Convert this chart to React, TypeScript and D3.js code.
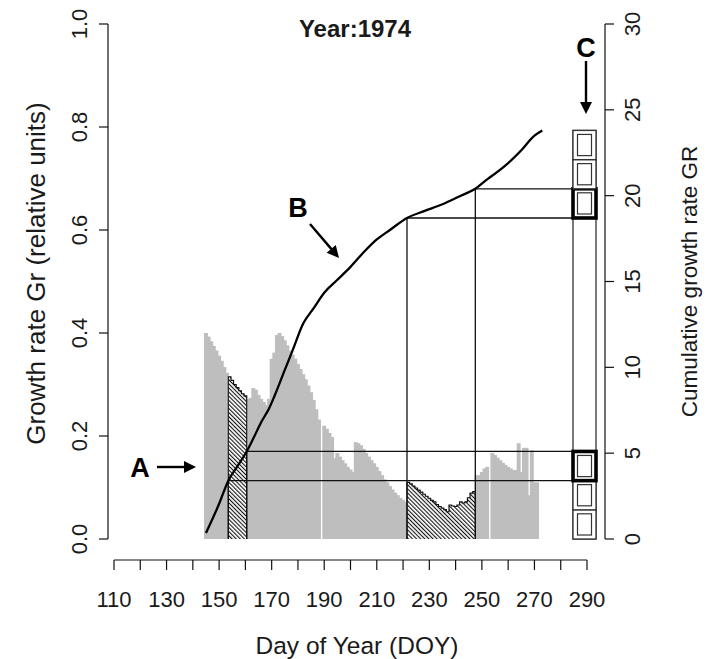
import React from 'react';
import * as d3 from 'd3';

// ---------- data ----------
const titleText = 'Year:1974';
const xLabel = 'Day of Year (DOY)';
const yLeftLabel = 'Growth rate Gr (relative units)';
const yRightLabel = 'Cumulative growth rate GR';

// daily growth rate Gr, starting at DOY 145 (0 = missing day)
const barStartDay = 145;
const growthRate = [
  0.400, 0.393, 0.384, 0.375, 0.366, 0.356, 0.346, 0.334, 0.323, // 145-153
  0.315, 0.308, 0.300, 0.294, 0.288, 0.282, 0.278, // 154-160
  0.272, 0.274, 0.293, 0.290, 0.280, 0.272, 0.266, 0.260, 0.272, // 161-169
  0.350, 0.362, 0.396, 0.400, 0.394, 0.386, 0.376, 0.366, 0.358, 0.350, // 170-179
  0.340, 0.330, 0.320, 0.310, 0.298, 0.285, 0.270, 0.252, 0.232, 0, // 180-189
  0.220, 0.214, 0.206, 0.198, 0.157, 0.167, 0.160, 0.153, 0.147, 0.140, // 190-199
  0.135, 0.130, 0.188, 0.186, 0.182, 0.175, 0.167, 0.160, 0.153, 0.147, // 200-209
  0.140, 0.132, 0.124, 0.116, 0.110, 0.103, 0.096, 0.090, 0.085, 0.080, // 210-219
  0.076, 0.072, // 220-221
  0.110, 0.107, 0.103, 0.099, 0.095, 0.091, 0.087, 0.083, // 222-229
  0.079, 0.075, 0.072, 0.067, 0.063, 0.060, 0.057, 0.053, 0.066, 0.064, // 230-239
  0.063, 0.066, 0.072, 0.070, 0.072, 0.080, 0.089, // 240-246
  0.092, // 247
  0.124, 0.124, 0.130, 0.137, 0.140, 0, // 248-253
  0.167, 0.163, 0.158, 0.153, 0.148, 0.144, // 254-259
  0.140, 0.137, 0.134, 0.134, 0.186, 0.130, 0.177, 0.177, 0.085, 0.172, // 260-269
  0.110, 0.110, // 270-271
];

// cumulative growth rate GR (right axis)
const cumDays = [145, 150, 153.5, 157, 160.5, 163, 166, 169, 171, 175, 178, 182, 186, 190, 195, 200, 205, 210, 215, 221.5, 228, 235, 242, 247.5, 252, 256, 260, 265, 270, 273];
const cumGR = [0.35, 2.05, 3.4, 4.25, 5.1, 5.85, 6.8, 7.6, 8.3, 9.85, 11.0, 12.55, 13.45, 14.35, 15.1, 15.85, 16.7, 17.45, 18.0, 18.7, 19.1, 19.5, 20.0, 20.4, 20.95, 21.4, 21.9, 22.65, 23.5, 23.8];

// highlighted periods (hatched)
const periodStart = [154, 222];
const periodEnd = [160, 247];
const periodGRStart = [3.4, 18.7];
const periodGREnd = [5.1, 20.4];

// GR classes in column C
const binWidth = 1.7;
const binCount = 14;
const drawnBins = [0, 1, 2, 11, 12, 13];
const highlightedBins = [2, 11];

// axes ticks
const xTicks = [110, 120, 130, 140, 150, 160, 170, 180, 190, 200, 210, 220, 230, 240, 250, 260, 270, 280, 290];
const xTickLabels = [110, 130, 150, 170, 190, 210, 230, 250, 270, 290];
const yLeftTicks = [0, 0.2, 0.4, 0.6, 0.8, 1.0];
const yRightTicks = [0, 5, 10, 15, 20, 25, 30];

// ---------- component ----------
export default function App() {
  const W = 707, H = 659;
  const x = d3.scaleLinear().domain([110, 290]).range([114, 587]);
  const yL = d3.scaleLinear().domain([0, 1]).range([539, 24]);
  const yR = d3.scaleLinear().domain([0, 30]).range([539, 24]);

  const leftAxisX = 108;
  const rightAxisX = 605;
  const bottomAxisY = 560;
  const colX0 = 573, colX1 = 596;
  const font = '"Liberation Sans", Arial, sans-serif';
  const textColor = '#1a1a1a';
  const gray = '#bebebe';

  const bars = growthRate.map((v, i) => ({ day: barStartDay + i, v }));

  const line = d3.line<number>()
    .x((_, i) => x(cumDays[i]))
    .y((g) => yR(g))
    .curve(d3.curveMonotoneX);

  const hatchOutline = (k: number) => {
    const s = periodStart[k], e = periodEnd[k];
    const sel = bars.filter(b => b.day >= s && b.day <= e);
    let p = `M${x(s - 0.5)},${yL(0)}`;
    sel.forEach((b) => {
      p += ` V${yL(b.v)} H${x(b.day + 0.5)}`;
    });
    p += ` V${yL(0)}`;
    return p;
  };

  const arrowHead = (x1: number, y1: number, x2: number, y2: number, len = 12, half = 6) => {
    const a = Math.atan2(y2 - y1, x2 - x1);
    const bx = x2 - len * Math.cos(a), by = y2 - len * Math.sin(a);
    const px = -Math.sin(a) * half, py = Math.cos(a) * half;
    return `M${x2},${y2} L${bx + px},${by + py} L${bx - px},${by - py} Z`;
  };
  const arrows = [
    { x1: 157, y1: 467, x2: 196, y2: 467 },
    { x1: 310, y1: 224, x2: 339, y2: 258 },
    { x1: 586, y1: 61, x2: 586, y2: 114 },
  ];

  return (
    <svg width={W} height={H} style={{ position: 'absolute', left: 0, top: 0, background: '#fff' }}>
      <defs>
        <pattern id="hatch" patternUnits="userSpaceOnUse" width={2.9} height={2.9} patternTransform="rotate(-45)">
          <rect width={2.9} height={2.9} fill="#fff" />
          <rect x={0} y={0} width={1.1} height={2.9} fill="#111" />
        </pattern>
      </defs>
      <rect width={W} height={H} fill="#fff" />

      {/* gray bars */}
      {bars.filter(b => b.v > 0).map((b) => (
        <rect key={b.day} x={x(b.day - 0.75)} y={yL(b.v)} width={x(b.day + 0.75) - x(b.day - 0.75)}
          height={yL(0) - yL(b.v)} fill={gray} />
      ))}

      {/* hatched periods */}
      {periodStart.map((s, k) => (
        <g key={'h' + k}>
          {bars.filter(b => b.day >= s && b.day <= periodEnd[k]).map((b) => (
            <rect key={b.day} x={x(b.day - 0.5)} y={yL(b.v)} width={x(b.day + 0.5) - x(b.day - 0.5) + 0.2}
              height={yL(0) - yL(b.v)} fill="url(#hatch)" />
          ))}
          <path d={hatchOutline(k)} fill="none" stroke="#111" strokeWidth={1.1} />
        </g>
      ))}

      {/* guide lines from period boundaries to column C */}
      {periodStart.map((s, k) => {
        const xa = x(s - 0.5), xb = x(periodEnd[k] + 0.5);
        const ya = yR(periodGRStart[k]), yb = yR(periodGREnd[k]);
        return (
          <g key={'g' + k} stroke="#111" strokeWidth={1.3} fill="none">
            <line x1={xa} y1={yR(0)} x2={xa} y2={ya} />
            <line x1={xb} y1={yR(0)} x2={xb} y2={yb} />
            <line x1={xa} y1={ya} x2={colX0} y2={ya} />
            <line x1={xb} y1={yb} x2={colX0} y2={yb} />
          </g>
        );
      })}

      {/* cumulative curve */}
      <path d={line(cumGR) || ''} fill="none" stroke="#000" strokeWidth={2.3} strokeLinejoin="round" />

      {/* column C */}
      <rect x={colX0} y={yR(binWidth * binCount)} width={colX1 - colX0} height={yR(0) - yR(binWidth * binCount)}
        fill="none" stroke="#333" strokeWidth={1.3} />
      {drawnBins.map((i) => {
        const y0 = yR((i + 1) * binWidth), y1 = yR(i * binWidth);
        const hi = highlightedBins.includes(i);
        return (
          <g key={'b' + i}>
            <rect x={colX0} y={y0} width={colX1 - colX0} height={y1 - y0} fill="#fff"
              stroke={hi ? '#000' : '#333'} strokeWidth={hi ? 3.6 : 1.3} />
            <rect x={colX0 + 4.5} y={y0 + 4} width={colX1 - colX0 - 9} height={y1 - y0 - 8} fill="none"
              stroke="#333" strokeWidth={1.2} />
          </g>
        );
      })}

      {/* left axis */}
      <g stroke="#111" strokeWidth={1.2}>
        <line x1={leftAxisX} y1={yL(0)} x2={leftAxisX} y2={yL(1)} />
        {yLeftTicks.map(t => <line key={t} x1={leftAxisX - 9} x2={leftAxisX} y1={yL(t)} y2={yL(t)} />)}
      </g>
      {yLeftTicks.map(t => (
        <text key={t} transform={`translate(87,${yL(t)}) rotate(-90)`} textAnchor="middle" fontFamily={font}
          fontSize={22} fill={textColor}>{t.toFixed(1)}</text>
      ))}
      <text transform={`translate(45,${(yL(0) + yL(1)) / 2 - 8}) rotate(-90)`} textAnchor="middle" fontFamily={font}
        fontSize={26} fill={textColor}>{yLeftLabel}</text>

      {/* right axis */}
      <g stroke="#111" strokeWidth={1.2}>
        <line x1={rightAxisX} y1={yR(0)} x2={rightAxisX} y2={yR(30)} />
        {yRightTicks.map(t => <line key={t} x1={rightAxisX} x2={rightAxisX + 9} y1={yR(t)} y2={yR(t)} />)}
      </g>
      {yRightTicks.map(t => (
        <text key={t} transform={`translate(640,${yR(t)}) rotate(-90)`} textAnchor="middle" fontFamily={font}
          fontSize={22} fill={textColor}>{t}</text>
      ))}
      <text transform={`translate(697,${(yR(0) + yR(30)) / 2}) rotate(-90)`} textAnchor="middle" fontFamily={font}
        fontSize={22.5} fill={textColor}>{yRightLabel}</text>

      {/* bottom axis */}
      <g stroke="#111" strokeWidth={1.2}>
        <line x1={x(110)} y1={bottomAxisY} x2={x(290)} y2={bottomAxisY} />
        {xTicks.map(t => <line key={t} x1={x(t)} x2={x(t)} y1={bottomAxisY} y2={bottomAxisY + 10} />)}
      </g>
      {xTickLabels.map(t => (
        <text key={t} x={x(t)} y={607} textAnchor="middle" fontFamily={font} fontSize={22} fill={textColor}>{t}</text>
      ))}
      <text x={357} y={654} textAnchor="middle" fontFamily={font} fontSize={24.5} fill={textColor}>{xLabel}</text>

      {/* title */}
      <text x={355} y={37} textAnchor="middle" fontFamily={font} fontWeight="bold" fontSize={24} fill={textColor}>{titleText}</text>

      {/* annotations */}
      <text x={140} y={477} textAnchor="middle" fontFamily={font} fontWeight="bold" fontSize={27} fill="#000">A</text>
      <text x={298} y={217} textAnchor="middle" fontFamily={font} fontWeight="bold" fontSize={27} fill="#000">B</text>
      <text x={586} y={57} textAnchor="middle" fontFamily={font} fontWeight="bold" fontSize={27} fill="#000">C</text>
      {arrows.map((a, i) => {
        const ang = Math.atan2(a.y2 - a.y1, a.x2 - a.x1);
        return (
          <g key={'a' + i}>
            <line x1={a.x1} y1={a.y1} x2={a.x2 - 9 * Math.cos(ang)} y2={a.y2 - 9 * Math.sin(ang)}
              stroke="#000" strokeWidth={2.4} />
            <path d={arrowHead(a.x1, a.y1, a.x2, a.y2)} fill="#000" />
          </g>
        );
      })}
    </svg>
  );
}
